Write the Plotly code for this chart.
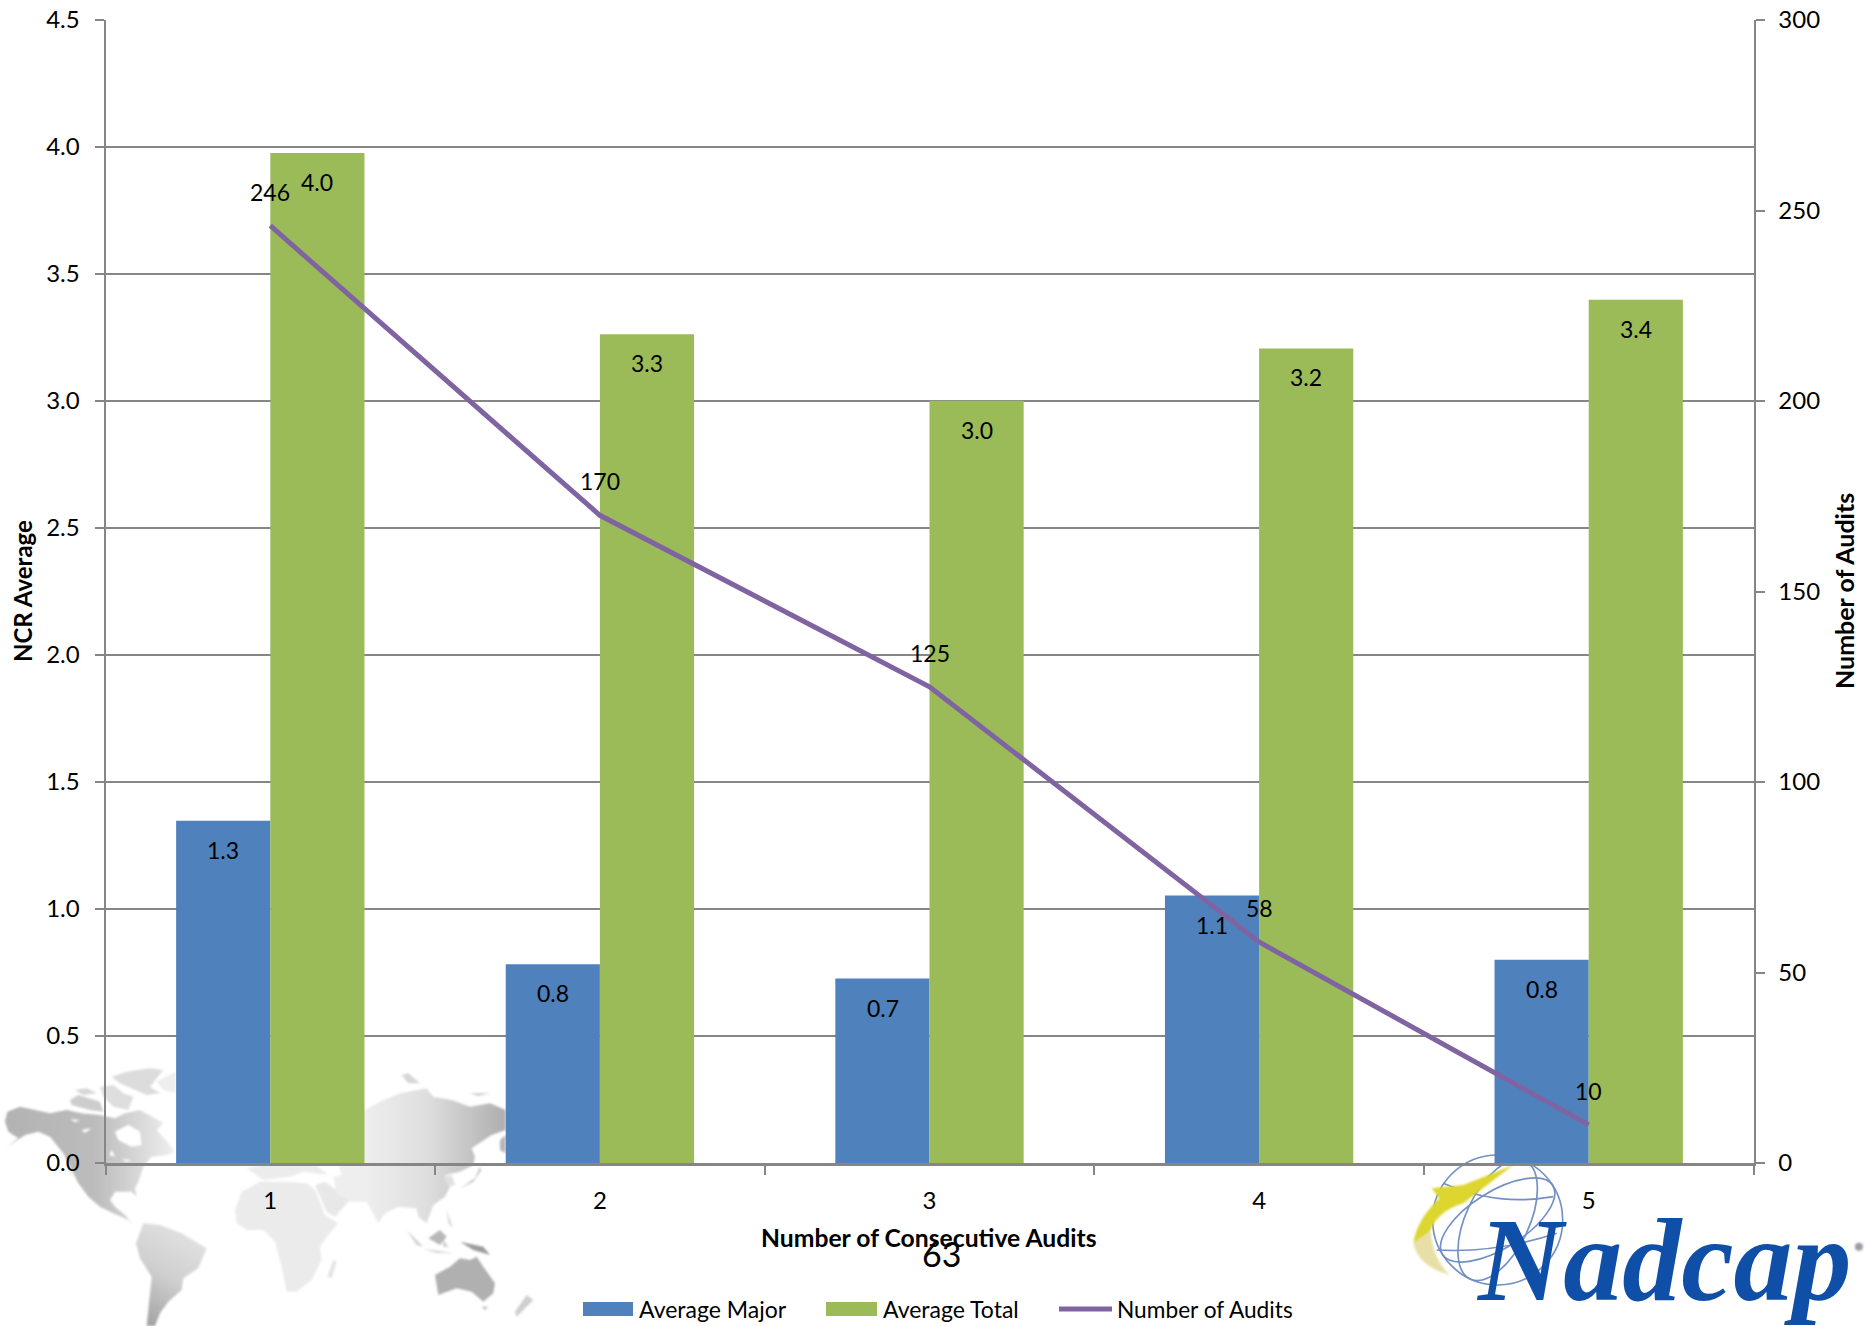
import base64
import plotly.graph_objects as go

W, H = 1865, 1326
PLOT_L, PLOT_R, PLOT_T, PLOT_B = 105.5, 1753.5, 20, 1163

audits = ["1", "2", "3", "4", "5"]
average_major = [1.347, 0.782, 0.726, 1.053, 0.80]
average_total = [3.976, 3.263, 3.001, 3.207, 3.399]
number_of_audits = [246, 170, 125, 58, 10]

BLUE, GREEN, PURPLE = "#4F81BD", "#9BBB59", "#8064A2"
AXIS = "#868686"
FONT = "Lato, Carlito, sans-serif"


def px(x):
    return x / W


def py(y):
    return 1 - y / H


def poly(points, fill):
    d = " ".join(f"{a},{b}" for a, b in points)
    return f'<polygon points="{d}" fill="{fill}"/>'


# Grey world map behind the lower left of the chart, in two panels of thirds of a pixel
AMERICAS = [
    ([(15, 185), (22, 155), (60, 140), (105, 150), (150, 160), (200, 150), (245, 160), (300, 165), (345, 175),
      (375, 160), (420, 150), (465, 175), (490, 190), (470, 210), (505, 250), (525, 275), (500, 285), (455, 290),
      (430, 320), (415, 365), (405, 385), (410, 410), (395, 395), (345, 395), (330, 420), (345, 440), (375, 465),
      (400, 495), (385, 480), (340, 460), (300, 440), (265, 410), (235, 370), (210, 320), (190, 280), (150, 230),
      (115, 215), (75, 225), (20, 262), (55, 235), (25, 215)], "url(#west)"),
    ([(345, 215), (385, 195), (420, 215), (425, 255), (395, 260), (355, 240)], "#fff"),
    ([(210, 178), (240, 180), (225, 186)], "#fff"),
    ([(245, 210), (275, 205), (255, 218)], "#fff"),
    ([(335, 270), (345, 290), (328, 285)], "#fff"),
    ([(365, 298), (395, 300), (380, 306)], "#fff"),
    ([(210, 120), (235, 105), (300, 125), (310, 155), (270, 150), (215, 135)], "#cdcdcd"),
    ([(225, 90), (260, 85), (290, 100), (250, 105)], "#d6d6d6"),
    ([(300, 80), (340, 75), (370, 100), (400, 110), (385, 150), (340, 140), (310, 110)], "#dedede"),
    ([(335, 50), (380, 35), (450, 25), (490, 30), (470, 55), (450, 80), (480, 100), (440, 105), (395, 85),
      (360, 70)], "#dcdcdc"),
    ([(470, 65), (527, 35), (527, 100), (490, 90)], "#eeeeee"),
    ([(430, 490), (480, 495), (545, 520), (620, 565), (595, 625), (550, 655), (545, 690), (505, 725), (480, 760),
      (465, 798), (440, 798), (450, 700), (455, 650), (420, 595), (408, 550)], "url(#south)"),
]
OLD_WORLD = [
    ([(-105, 450), (-85, 395), (-30, 365), (40, 365), (110, 370), (135, 390), (165, 465), (205, 490), (170, 530),
      (150, 560), (155, 600), (125, 660), (80, 695), (50, 695), (35, 620), (15, 545), (-20, 510), (-70, 510),
      (-100, 490)], "#ebebeb"),
    ([(190, 600), (200, 605), (185, 655), (172, 650)], "#e4e4e4"),
    ([(-70, 325), (10, 310), (130, 310), (175, 345), (100, 335), (60, 350), (-20, 360)], "#ececec"),
    ([(135, 375), (165, 365), (240, 420), (195, 470), (170, 455)], "#e8e8e8"),
    ([(200, 140), (283, 150), (330, 125), (390, 100), (470, 85), (490, 110), (545, 120), (600, 140), (660, 130),
      (707, 150), (707, 210), (665, 225), (605, 265), (615, 290), (610, 315), (570, 335), (525, 345), (545, 370),
      (525, 410), (490, 435), (470, 490), (445, 470), (440, 445), (385, 440), (345, 460), (325, 490), (290, 425),
      (240, 425), (200, 400), (190, 350), (215, 345), (205, 310)], "url(#east)"),
    ([(690, 240), (707, 225), (707, 280), (690, 270)], "#b4b4b4"),
    ([(395, 45), (415, 40), (450, 70), (415, 70)], "#d6d6d6"),
    ([(600, 100), (660, 100), (625, 108)], "#cccccc"),
    ([(630, 320), (615, 355), (570, 385), (610, 365), (634, 330)], "#c4c4c4"),
    ([(520, 350), (545, 345), (555, 375), (535, 380)], "#e0e0e0"),
    ([(530, 450), (550, 505), (535, 490)], "#dcdcdc"),
    ([(410, 510), (460, 560), (440, 555)], "#d0d0d0"),
    ([(460, 568), (550, 578), (500, 578)], "#cccccc"),
    ([(475, 535), (510, 510), (530, 530), (510, 555)], "#b8b8b8"),
    ([(520, 540), (535, 560), (520, 560)], "#c8c8c8"),
    ([(570, 545), (640, 560), (660, 585), (610, 570)], "#9c9c9c"),
    ([(495, 645), (540, 620), (570, 595), (600, 600), (620, 590), (640, 620), (675, 670), (670, 700), (640, 725),
      (605, 695), (560, 685), (505, 705)], "#b0b0b0"),
    ([(635, 740), (655, 740), (645, 750)], "#bbbbbb"),
    ([(770, 705), (790, 720), (740, 770), (735, 755)], "#cfcfcf"),
]
americas_svg = "".join(poly(p, f) for p, f in AMERICAS)
old_world_svg = "".join(poly(p, f) for p, f in OLD_WORLD)
art_svg = f'''<svg xmlns="http://www.w3.org/2000/svg" width="{W}" height="{H}" viewBox="0 0 {W} {H}">
<defs>
<linearGradient id="west" gradientUnits="userSpaceOnUse" x1="0" x2="520" y1="0" y2="0">
<stop offset="0" stop-color="#b2b2b2"/><stop offset="0.55" stop-color="#bcbcbc"/><stop offset="1" stop-color="#eeeeee"/>
</linearGradient>
<linearGradient id="south" gradientUnits="userSpaceOnUse" x1="600" x2="440" y1="530" y2="790">
<stop offset="0" stop-color="#e2e2e2"/><stop offset="0.5" stop-color="#cfcfcf"/><stop offset="1" stop-color="#a4a4a4"/>
</linearGradient>
<linearGradient id="east" gradientUnits="userSpaceOnUse" x1="283" x2="707" y1="0" y2="0">
<stop offset="0" stop-color="#eeeeee"/><stop offset="0.45" stop-color="#dedede"/><stop offset="1" stop-color="#aeaeae"/>
</linearGradient>
<filter id="soft"><feGaussianBlur stdDeviation="3"/></filter>
</defs>
<g transform="translate(0,1060) scale(0.3333)" filter="url(#soft)">{americas_svg}</g>
<g transform="translate(270,1060) scale(0.3333)" filter="url(#soft)">{old_world_svg}</g>
<g transform="translate(1380,1120) scale(0.3333)" fill="none" stroke="#7390c4" stroke-width="5">
<circle cx="353" cy="300" r="195"/>
<ellipse cx="353" cy="300" rx="95" ry="195" transform="rotate(25 353 300)"/>
<ellipse cx="353" cy="300" rx="195" ry="85" transform="rotate(-32 353 300)"/>
<path d="M190,190 Q350,260 520,230"/>
<path d="M170,390 Q350,400 530,340"/>
</g>
<g transform="translate(1380,1120) scale(0.3333)" filter="url(#soft)">
<path d="M400,135 L250,195 L155,205 L178,235 Q110,300 100,370 L150,335 Q170,275 250,250 Z" fill="#dcd62e"/>
<path d="M100,370 Q115,440 210,465 Q160,420 152,335 Z" fill="#e8dfa6"/>
<circle cx="1437" cy="380" r="12" fill="#a09aa8"/>
</g>
</svg>'''
art_uri = "data:image/svg+xml;base64," + base64.b64encode(art_svg.encode()).decode()

fig = go.Figure()
fig.add_bar(x=audits, y=average_major, name="Average Major", marker_color=BLUE, marker_line_width=0)
fig.add_bar(x=audits, y=average_total, name="Average Total", marker_color=GREEN, marker_line_width=0)
fig.add_scatter(x=audits, y=number_of_audits, name="Number of Audits", yaxis="y2", mode="lines",
                line=dict(color=PURPLE, width=5), hoverinfo="x+y")

annotations = []


def note(text, x, y, size=23, bold=False, angle=0, color="#000", anchor="center"):
    annotations.append(dict(text=f"<b>{text}</b>" if bold else text, xref="paper", yref="paper",
                            x=px(x), y=py(y), xanchor=anchor, yanchor="middle", showarrow=False,
                            textangle=angle, font=dict(family=FONT, size=size, color=color)))


# Value labels sit just inside the top of each bar and above each line point
for i, (major, total, count) in enumerate(zip(average_major, average_total, number_of_audits)):
    annotations.append(dict(text=f"{major:.1f}", x=i, y=major, xref="x", yref="y", xshift=-47, yshift=-29,
                            showarrow=False, font=dict(family=FONT, size=23, color="#000")))
    annotations.append(dict(text=f"{total:.1f}", x=i, y=total, xref="x", yref="y", xshift=47, yshift=-29,
                            showarrow=False, font=dict(family=FONT, size=23, color="#000")))
    annotations.append(dict(text=str(count), x=i, y=count, xref="x", yref="y2", yshift=34,
                            showarrow=False, font=dict(family=FONT, size=23, color="#000")))

note("NCR Average", 22, 591, size=24, bold=True, angle=-90)
note("Number of Audits", 1844, 591, size=25, bold=True, angle=-90)
note("Number of Consecutive Audits", 929, 1237, size=24.7, bold=True)
note("63", 941, 1253, size=34)

# Legend row along the bottom edge
LEGEND_ROW = 1309
shapes = [
    dict(type="rect", xref="paper", yref="paper", x0=px(583), x1=px(633), y0=py(LEGEND_ROW - 7), y1=py(LEGEND_ROW + 7),
         fillcolor=BLUE, line_width=0),
    dict(type="rect", xref="paper", yref="paper", x0=px(826), x1=px(877), y0=py(LEGEND_ROW - 7), y1=py(LEGEND_ROW + 7),
         fillcolor=GREEN, line_width=0),
    dict(type="line", xref="paper", yref="paper", x0=px(1059), x1=px(1112), y0=py(LEGEND_ROW), y1=py(LEGEND_ROW),
         line=dict(color=PURPLE, width=5)),
]
note("Average Major", 637, LEGEND_ROW, size=23, anchor="left")
note("Average Total", 881, LEGEND_ROW, size=23, anchor="left")
note("Number of Audits", 1115, LEGEND_ROW, size=22.7, anchor="left")

# Logo wordmark
annotations.append(dict(text="<b><i>Nadcap</i></b>", xref="paper", yref="paper", x=px(1664), y=py(1260),
                        xanchor="center", yanchor="middle", showarrow=False,
                        font=dict(family="Liberation Serif", size=118, color="#0f4fa8")))

axis_font = dict(family=FONT, size=24, color="#000")
fig.update_layout(
    template="none",
    width=W, height=H, autosize=False,
    margin=dict(l=0, r=0, t=0, b=0),
    paper_bgcolor="rgba(0,0,0,0)", plot_bgcolor="rgba(0,0,0,0)",
    showlegend=False, barmode="group", bargap=0.4286, bargroupgap=0,
    annotations=annotations, shapes=shapes,
    images=[dict(source=art_uri, xref="paper", yref="paper", x=0, y=1, sizex=1, sizey=1,
                 xanchor="left", yanchor="top", sizing="stretch", layer="below")],
    xaxis=dict(domain=[px(PLOT_L), px(PLOT_R)], type="category", range=[-0.5, 4.5], tickson="boundaries",
               ticks="outside", ticklen=9, tickwidth=2, tickcolor=AXIS, showline=True, linecolor=AXIS,
               linewidth=2.5, showgrid=False, tickfont=axis_font, ticklabelstandoff=14, zeroline=False,
               automargin=False),
    yaxis=dict(domain=[py(PLOT_B), py(PLOT_T)], range=[0, 4.5], dtick=0.5, tickformat=".1f",
               ticks="outside", ticklen=9, tickwidth=2, tickcolor=AXIS, showline=True, linecolor=AXIS,
               linewidth=2, gridcolor=AXIS, gridwidth=2, tickfont=axis_font, ticklabelstandoff=10, zeroline=False,
               automargin=False),
    yaxis2=dict(overlaying="y", side="right", range=[0, 300], dtick=50, anchor="x",
                ticks="outside", ticklen=9, tickwidth=2, tickcolor=AXIS, showline=True, linecolor=AXIS,
                linewidth=2, showgrid=False, tickfont=axis_font, ticklabelstandoff=9, zeroline=False,
                automargin=False),
)

fig.write_html("out.html", config=dict(displayModeBar=False))
